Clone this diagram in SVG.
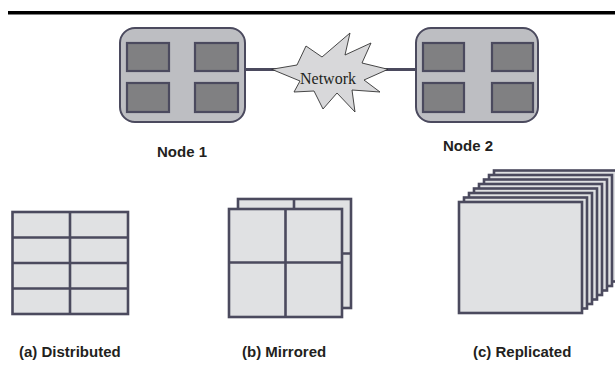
<svg xmlns="http://www.w3.org/2000/svg" width="615" height="376" viewBox="0 0 615 376">
  <style>
    .node-body { fill: #bdbec2; stroke: #4b4a5e; stroke-width: 2; }
    .cpu { fill: #808082; stroke: #4b4a5e; stroke-width: 2.2; }
    .link { stroke: #4b4a5e; stroke-width: 3; fill: none; }
    .cloud { fill: #d8d8da; stroke: #333; stroke-width: 0.9; }
    .sheet { fill: #e0e1e3; stroke: #4b4a5e; stroke-width: 2.6; }
    .grid { stroke: #4b4a5e; stroke-width: 2.6; fill: none; }
    .label { font-family: "Liberation Sans", Arial, sans-serif; font-weight: bold; font-size: 15px; fill: #231f20; }
    .net { font-family: "Liberation Serif", "Times New Roman", serif; font-size: 16px; fill: #231f20; }
  </style>

  <!-- header rule -->
  <rect x="8" y="11" width="607" height="3.5" fill="#000"/>

  <!-- links between the nodes and the network -->
  <g id="connectors">
    <line class="link" x1="245" y1="69.5" x2="276" y2="69.5"/>
    <line class="link" x1="384" y1="69.5" x2="416" y2="69.5"/>
  </g>

  <g id="node1">
    <rect class="node-body" x="120" y="28" width="125" height="94" rx="15"/>
    <rect class="cpu" x="127" y="43" width="42" height="28"/>
    <rect class="cpu" x="195" y="43" width="43" height="28"/>
    <rect class="cpu" x="127" y="83" width="42" height="29"/>
    <rect class="cpu" x="195" y="83" width="43" height="29"/>
    <text class="label" x="157" y="157">Node 1</text>
  </g>

  <g id="network">
    <polygon class="cloud" points="271.7,69.3 297,65 306,46 322,57 350,33 345,55 371,43 362,63 388,69.3 364,80 380,92 352,90 355,112 337,93 323,109 314,91 294,92 300,81"/>
    <text class="net" x="328" y="84" text-anchor="middle">Network</text>
  </g>

  <g id="node2">
    <rect class="node-body" x="416" y="28" width="122" height="94" rx="15"/>
    <rect class="cpu" x="423" y="43" width="41" height="28"/>
    <rect class="cpu" x="492" y="43" width="41" height="28"/>
    <rect class="cpu" x="423" y="83" width="41" height="29"/>
    <rect class="cpu" x="492" y="83" width="41" height="29"/>
    <text class="label" x="443" y="151">Node 2</text>
  </g>

  <g id="distributed">
    <rect class="sheet" x="12.5" y="212" width="115.5" height="102"/>
    <path class="grid" d="M70,212V314M12.5,237.5H128M12.5,263H128M12.5,288.5H128"/>
    <text class="label" x="19" y="357">(a) Distributed</text>
  </g>

  <g id="mirrored">
    <rect class="sheet" x="238" y="199" width="113" height="109"/>
    <path class="grid" d="M294,199V209M342,253.5H351"/>
    <rect class="sheet" x="229" y="209" width="113" height="108"/>
    <path class="grid" d="M285.5,209V317M229,262.5H342"/>
    <text class="label" x="242" y="357">(b) Mirrored</text>
  </g>

  <g id="replicated">
    <rect class="sheet" x="494" y="170.5" width="123" height="111"/>
    <rect class="sheet" x="489" y="175" width="123" height="111"/>
    <rect class="sheet" x="484" y="179.5" width="123" height="111"/>
    <rect class="sheet" x="479" y="184" width="123" height="111"/>
    <rect class="sheet" x="474" y="188.5" width="123" height="111"/>
    <rect class="sheet" x="469" y="193" width="123" height="111"/>
    <rect class="sheet" x="464" y="197.5" width="123" height="111"/>
    <rect class="sheet" x="459" y="202" width="123" height="111"/>
    <text class="label" x="473" y="357">(c) Replicated</text>
  </g>
</svg>
